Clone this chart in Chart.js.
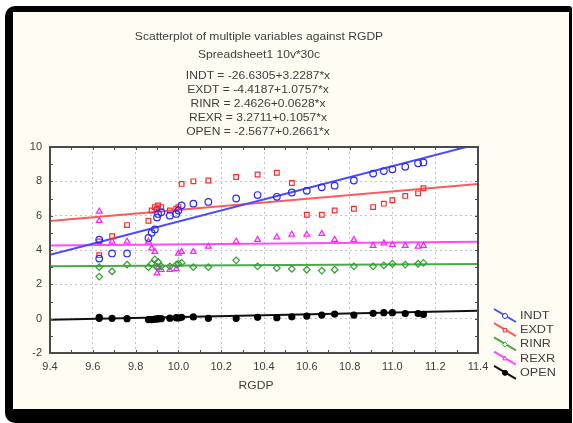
<!DOCTYPE html>
<html>
<head>
<meta charset="utf-8">
<script src="https://cdn.jsdelivr.net/npm/chart.js@4/dist/chart.umd.min.js"></script>
<style>
html,body{margin:0;padding:0;background:#fff;}
#frame{position:absolute;left:5px;top:6px;width:567px;height:417px;background:#000;border-radius:10px 3px 0 10px;}
#panel{position:absolute;left:13px;top:12px;width:556px;height:397px;background:#fffdf3;}
#wrap{position:absolute;left:0;top:0;width:573px;height:423px;}
</style>
</head>
<body>
<div id="frame"></div>
<div id="panel"></div>
<div id="wrap"><canvas id="canvas" width="573" height="423"></canvas></div>
<script>
// RGDP for the 30 cases
const rgdp = [9.63, 9.63, 9.69, 9.76, 9.86, 9.875, 9.89, 9.90, 9.905, 9.92,
              9.96, 9.99, 10.00, 10.015, 10.07, 10.14, 10.27, 10.37, 10.46, 10.53,
              10.60, 10.67, 10.73, 10.82, 10.91, 10.96, 11.00, 11.06, 11.12, 11.145];

const indt = [4.6, 3.5, 3.8, 3.8, 4.7, 5.0, 5.2, 5.9, 6.1, 6.2,
              6.0, 6.1, 6.3, 6.6, 6.7, 6.8, 7.0, 7.2, 7.1, 7.35,
              7.45, 7.65, 7.75, 8.05, 8.45, 8.6, 8.7, 8.85, 9.05, 9.1];
const exdt = [4.5, 3.7, 4.8, 5.45, 5.7, 6.3, 6.5, 6.4, 6.6, 6.5,
              6.3, 6.4, 6.5, 7.85, 8.0, 8.05, 8.25, 8.4, 8.5, 7.9,
              6.05, 6.05, 6.3, 6.4, 6.5, 6.7, 6.9, 7.15, 7.3, 7.6];
const rinr = [2.45, 3.0, 2.75, 3.15, 3.0, 3.2, 3.45, 3.0, 3.3, 3.05,
              3.05, 3.15, 3.2, 3.25, 3.0, 3.0, 3.4, 3.05, 2.95, 2.9,
              2.85, 2.8, 2.85, 3.05, 3.05, 3.1, 3.2, 3.15, 3.2, 3.25];
const rexr = [6.25, 5.7, 4.5, 4.5, 4.5, 4.1, 3.9, 2.65, 3.0, 2.85,
              2.85, 2.9, 3.8, 3.9, 3.9, 4.2, 4.5, 4.6, 4.75, 4.9,
              4.9, 4.95, 4.6, 4.6, 4.25, 4.4, 4.3, 4.25, 4.2, 4.25];
const open = [0.08, 0.02, 0.02, 0.0, -0.05, -0.05, -0.03, -0.02, 0.0, 0.0,
              0.03, 0.06, 0.04, 0.08, 0.1, 0.02, 0.02, 0.08, 0.06, 0.11,
              0.15, 0.21, 0.27, 0.21, 0.31, 0.35, 0.35, 0.3, 0.3, 0.25];

const names = ['INDT', 'EXDT', 'RINR', 'REXR', 'OPEN'];
const values = [indt, exdt, rinr, rexr, open];
// fitted lines: y = a + b*x
const intercepts = [-26.6305, -4.4187, 2.4626, 3.2711, -2.5677];
const slopes = [3.2287, 1.0757, 0.0628, 0.1057, 0.2661];

const xTicks = [9.4, 9.6, 9.8, 10.0, 10.2, 10.4, 10.6, 10.8, 11.0, 11.2, 11.4];
const yTicks = [-2, 0, 2, 4, 6, 8, 10];

const markColor = ['#2a2aff', '#ff2a2a', '#2f9f2f', '#ff20ff', '#000000'];
const lineColor = ['#4a4aff', '#ff5a5a', '#4aaa4a', '#ff4aff', '#111111'];
const shapes = ['circle', 'rect', 'rectRot', 'triangle', 'circle'];
const FONT = '"Liberation Sans", Arial, sans-serif';
const TEXT = '#3c3c3c';

let datasets = [];
names.forEach((n, i) => {
    let lo = xTicks[0], hi = xTicks[xTicks.length - 1];
    datasets.push({
        label: n + ' fit',
        data: [{x: lo, y: intercepts[i] + slopes[i] * lo}, {x: hi, y: intercepts[i] + slopes[i] * hi}],
        showLine: true, borderColor: lineColor[i], borderWidth: 2, pointRadius: 0, order: 2
    });
    datasets.push({
        label: n,
        data: rgdp.map((x, k) => ({x: x, y: values[i][k]})),
        pointStyle: shapes[i],
        pointRadius: i === 4 ? 3 : 3.3,
        borderWidth: 1.2,
        borderColor: markColor[i],
        backgroundColor: i === 4 ? '#000' : 'rgba(255,255,255,0)',
        order: 1
    });
});

// wide, small lettering like the STATISTICA headings
function wideText(ctx, s, x, y, align) {
    ctx.save();
    ctx.translate(x, y);
    ctx.scale(1.15, 1);
    ctx.textAlign = align || 'center';
    ctx.fillText(s, 0, 0);
    ctx.restore();
}

const frameBits = {
    id: 'frameBits',
    beforeDraw(chart) {
        let a = chart.chartArea, ctx = chart.ctx;
        ctx.save();
        ctx.fillStyle = '#ffffff';
        ctx.fillRect(a.left, a.top, a.right - a.left, a.bottom - a.top);
        ctx.restore();
    },
    afterDraw(chart) {
        let a = chart.chartArea, ctx = chart.ctx;
        let xs = chart.scales.x, ys = chart.scales.y;
        ctx.save();
        // box and inward tick marks
        ctx.strokeStyle = '#4a4a4a';
        ctx.lineWidth = 2;
        ctx.strokeRect(a.left, a.top, a.right - a.left, a.bottom - a.top);
        ctx.lineWidth = 1;
        ctx.beginPath();
        for (let v = 9.4; v <= 11.41; v += 0.1) {
            let px = Math.round(xs.getPixelForValue(v)) + 0.5;
            ctx.moveTo(px, a.bottom); ctx.lineTo(px, a.bottom - 3);
            ctx.moveTo(px, a.top); ctx.lineTo(px, a.top + 3);
        }
        for (let v = -2; v <= 10; v += 1) {
            let py = Math.round(ys.getPixelForValue(v)) + 0.5;
            ctx.moveTo(a.left, py); ctx.lineTo(a.left + 3, py);
            ctx.moveTo(a.right, py); ctx.lineTo(a.right - 3, py);
        }
        ctx.stroke();

        // headings
        ctx.fillStyle = TEXT;
        ctx.textBaseline = 'middle';
        ctx.font = '10.5px ' + FONT;
        wideText(ctx, 'Scatterplot of multiple variables against RGDP', 259, 37);
        wideText(ctx, 'Spreadsheet1 10v*30c', 259, 55);
        names.forEach((n, i) => {
            let eq = n + ' = ' + intercepts[i].toFixed(4) + '+' + slopes[i].toFixed(4) + '*x';
            wideText(ctx, eq, 258, 76 + i * 14);
        });
        wideText(ctx, 'RGDP', 256, 386);

        // legend
        names.forEach((n, i) => {
            let cy = 316 + i * 14.2;
            ctx.strokeStyle = lineColor[i];
            ctx.lineWidth = 2;
            ctx.beginPath();
            ctx.moveTo(494, cy - 7); ctx.lineTo(516, cy + 6);
            ctx.stroke();
            ctx.lineWidth = 1;
            ctx.strokeStyle = markColor[i];
            ctx.fillStyle = i === 4 ? '#000' : '#fff';
            Chart.helpers.drawPoint(ctx, {pointStyle: shapes[i], radius: 2.5, borderWidth: 1, rotation: 0}, 505, cy);
            if (i === 4) ctx.fill();
            ctx.fillStyle = TEXT;
            ctx.font = '11px ' + FONT;
            wideText(ctx, n, 520, cy, 'left');
        });
        ctx.restore();
    }
};

new Chart(document.getElementById('canvas').getContext('2d'), {
    type: 'scatter',
    data: {datasets: datasets},
    options: {
        responsive: false,
        animation: false,
        layout: {padding: {left: 0, top: 147, right: 95, bottom: 0}},
        plugins: {legend: {display: false}, tooltip: {enabled: false}, title: {display: false}},
        scales: {
            x: {
                type: 'linear', min: 9.4, max: 11.4,
                afterBuildTicks: s => { s.ticks = xTicks.map(v => ({value: v})); },
                afterFit: s => { s.height = 70; },
                ticks: {callback: v => v.toFixed(1), font: {size: 11, family: FONT}, color: TEXT, padding: 7, maxRotation: 0},
                grid: {color: '#c4c4c4', drawTicks: false},
                border: {display: false, dash: [2, 3]}
            },
            y: {
                type: 'linear', min: -2, max: 10,
                afterBuildTicks: s => { s.ticks = yTicks.map(v => ({value: v})); },
                afterFit: s => { s.width = 50; },
                ticks: {font: {size: 11, family: FONT}, color: TEXT, padding: 8},
                grid: {color: '#c4c4c4', drawTicks: false},
                border: {display: false, dash: [2, 3]}
            }
        }
    },
    plugins: [frameBits]
});
</script>
</body>
</html>
